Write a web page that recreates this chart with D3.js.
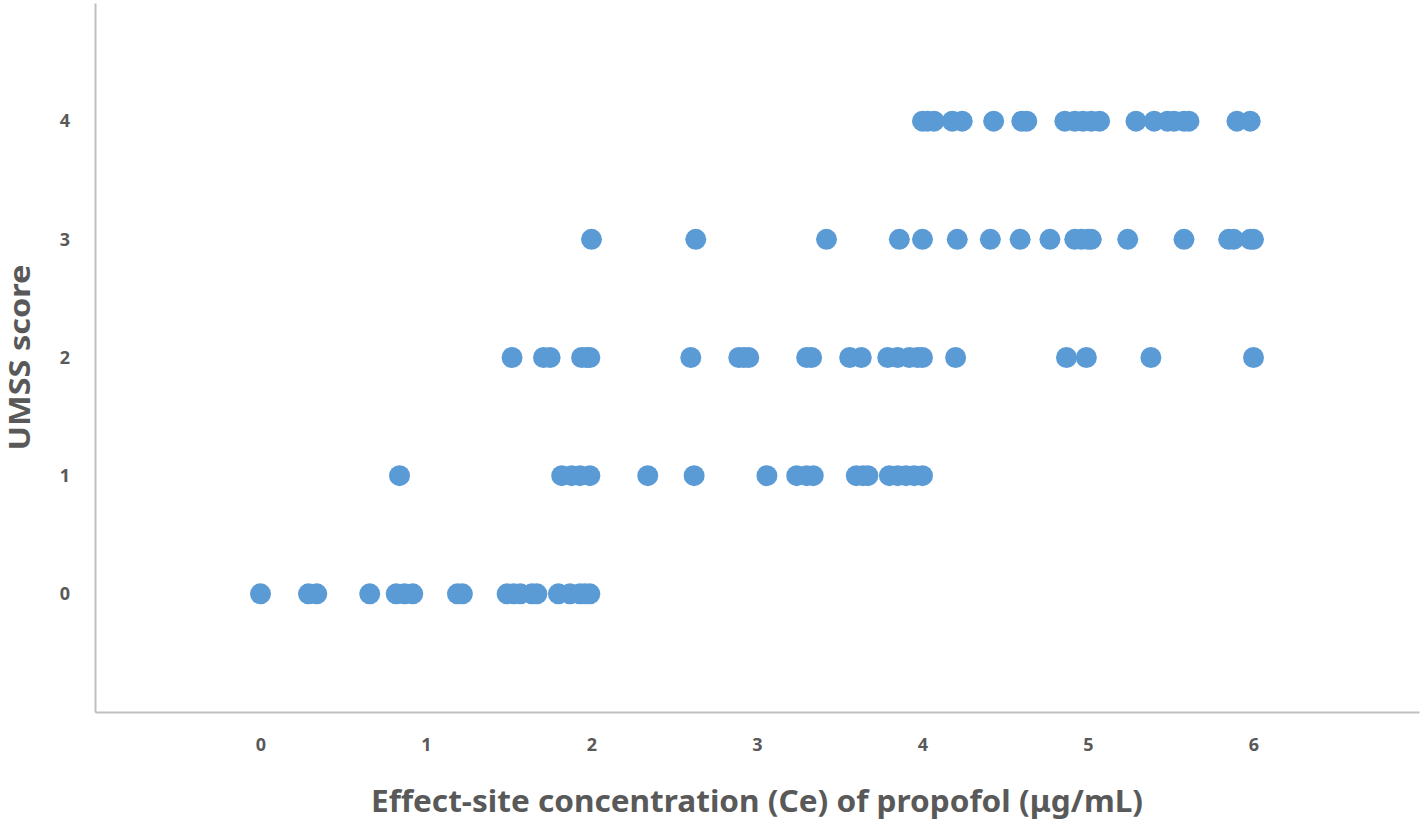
<!DOCTYPE html>
<html><head><meta charset="utf-8">
<script src="https://cdn.jsdelivr.net/npm/d3@7"></script>
<style>body{margin:0;background:#fff;}svg{display:block;}</style>
</head><body>
<svg id="chart" width="1424" height="820"></svg>
<script>
// Ce values (µg/mL) for each UMSS score
const score0 = [0, 0.29, 0.34, 0.66, 0.82, 0.87, 0.92, 1.19, 1.22, 1.49, 1.53, 1.57, 1.64, 1.67, 1.80, 1.87, 1.93, 1.96, 1.99];
const score1 = [0.84, 1.82, 1.88, 1.93, 1.99, 2.34, 2.62, 3.06, 3.24, 3.30, 3.34, 3.60, 3.64, 3.67, 3.80, 3.85, 3.90, 3.95, 4.00];
const score2 = [1.52, 1.71, 1.75, 1.94, 1.97, 1.99, 2.60, 2.89, 2.92, 2.95, 3.30, 3.33, 3.56, 3.63, 3.79, 3.85, 3.92, 3.97, 4.00, 4.20, 4.87, 4.99, 5.38, 6.00];
const score3 = [2.00, 2.63, 3.42, 3.86, 4.00, 4.21, 4.41, 4.59, 4.77, 4.92, 4.96, 5.00, 5.02, 5.24, 5.58, 5.85, 5.88, 5.98, 6.00];
const score4 = [4.00, 4.03, 4.07, 4.18, 4.24, 4.43, 4.60, 4.63, 4.86, 4.92, 4.97, 5.02, 5.07, 5.29, 5.40, 5.48, 5.52, 5.58, 5.61, 5.90, 5.98];
const scores = [0, 1, 2, 3, 4];
const xTicks = [0, 1, 2, 3, 4, 5, 6];
const yTicks = [0, 1, 2, 3, 4];
const xTitle = "Effect-site concentration (Ce) of propofol (μg/mL)";
const yTitle = "UMSS score";

const series = [score0, score1, score2, score3, score4];
const points = [];
series.forEach((arr, i) => arr.forEach(v => points.push({x: v, y: scores[i]})));

const svg = d3.select("#chart");
const x = d3.scaleLinear().domain([-1, 7]).range([95, 1419]);
const y = d3.scaleLinear().domain([-1, 5]).range([712, 3]);
const font = "'Noto Sans', 'Open Sans', sans-serif";
const textColor = "#595959";
const axisColor = "#bfbfbf";

const xAxis = svg.append("g").attr("transform", `translate(0,${y(-1)})`)
  .call(d3.axisBottom(x).tickValues(xTicks).tickSize(0).tickPadding(26).tickFormat(d3.format("d")));
xAxis.select(".domain").attr("stroke", axisColor).attr("stroke-width", 2);
xAxis.selectAll("text").attr("fill", textColor).attr("font-family", font).attr("font-weight", "700").attr("font-size", 18);

const yAxis = svg.append("g").attr("transform", `translate(${x(-1)},0)`)
  .call(d3.axisLeft(y).tickValues(yTicks).tickSize(0).tickPadding(25).tickFormat(d3.format("d")));
yAxis.select(".domain").attr("stroke", axisColor).attr("stroke-width", 2);
yAxis.selectAll("text").attr("fill", textColor).attr("font-family", font).attr("font-weight", "700").attr("font-size", 18);

svg.append("g").selectAll("circle").data(points).join("circle")
  .attr("cx", d => x(d.x)).attr("cy", d => y(d.y)).attr("r", 10.5)
  .attr("fill", "#5b9bd5");

svg.append("text").attr("x", 757).attr("y", 812).attr("text-anchor", "middle")
  .attr("fill", textColor).attr("font-family", font).attr("font-weight", "700").attr("font-size", 30)
  .attr("textLength", 772).attr("lengthAdjust", "spacingAndGlyphs")
  .text(xTitle);
svg.append("text").attr("transform", `translate(30,${y(2)}) rotate(-90)`).attr("text-anchor", "middle")
  .attr("fill", textColor).attr("font-family", font).attr("font-weight", "700").attr("font-size", 29)
  .attr("textLength", 186).attr("lengthAdjust", "spacingAndGlyphs")
  .text(yTitle);
</script>
</body></html>
